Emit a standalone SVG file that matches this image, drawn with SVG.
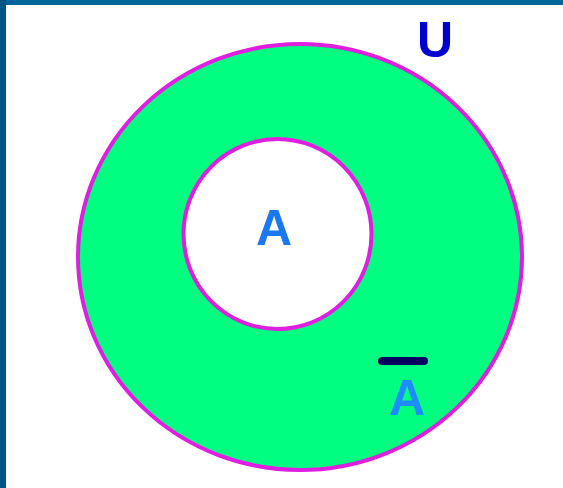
<svg xmlns="http://www.w3.org/2000/svg" width="563" height="488" viewBox="0 0 563 488">
<style>
.lbl{font-family:"Liberation Sans",Arial,sans-serif;font-weight:bold;font-size:50px;text-anchor:middle}
.ring{stroke:#e01ee0;stroke-width:4}
</style>
<rect width="563" height="488" fill="#ffffff"/>
<rect x="0" y="0" width="563" height="5" fill="#00659b"/>
<rect x="0" y="0" width="6" height="488" fill="#005583"/>
<g id="universe">
<ellipse class="ring" cx="300" cy="257" rx="222" ry="213" fill="#00ff80"/>
<text class="lbl" x="435" y="57" fill="#0000d0">U</text>
</g>
<g id="setA">
<ellipse class="ring" cx="277.5" cy="234" rx="94" ry="95" fill="#ffffff"/>
<text class="lbl" x="274" y="245" fill="#1a78f0">A</text>
</g>
<g id="complement">
<line x1="382" y1="361" x2="424" y2="361" stroke="#000060" stroke-width="8" stroke-linecap="round"/>
<text class="lbl" x="407" y="415" fill="#1e8cff">A</text>
</g>
</svg>
